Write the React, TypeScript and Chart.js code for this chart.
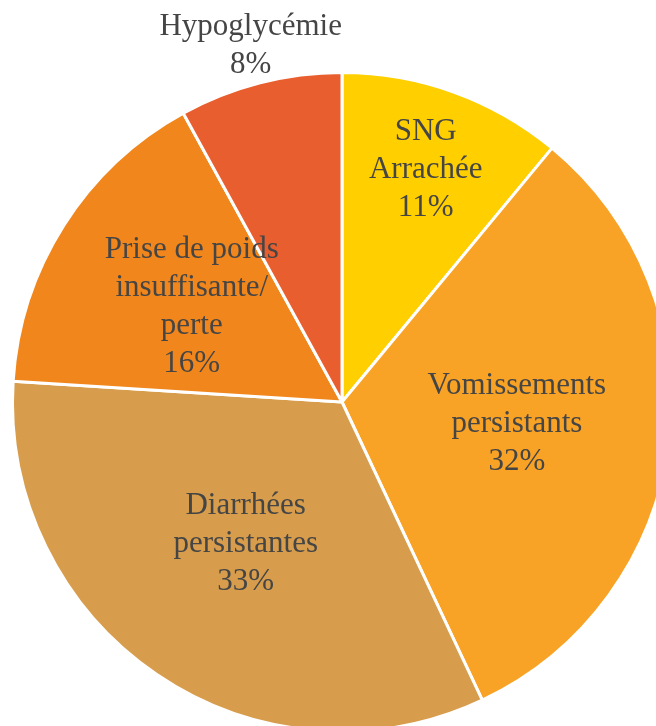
import React, { useEffect, useRef } from "react";
import { Chart, registerables } from "chart.js";

Chart.register(...registerables);

const categories = [
  "SNG Arrachée",
  "Vomissements persistants",
  "Diarrhées persistantes",
  "Prise de poids insuffisante/perte",
  "Hypoglycémie",
];
const labelLines = [
  ["SNG", "Arrachée"],
  ["Vomissements", "persistants"],
  ["Diarrhées", "persistantes"],
  ["Prise de poids", "insuffisante/", "perte"],
  ["Hypoglycémie"],
];
const values = [11, 32, 33, 16, 8];
const colors = ["#FFCF00", "#F8A325", "#D79D4C", "#F0861C", "#E95E2E"];

const labelPlugin = {
  id: "sliceLabels",
  afterDatasetsDraw(chart: any) {
    const meta = chart.getDatasetMeta(0);
    const ctx = chart.ctx;
    const radial = [0.75, 0.535, 0.52, 0.54, 1.115];
    const lh = 38;
    ctx.save();
    ctx.font = '31px "Liberation Serif", "Times New Roman", serif';
    ctx.fillStyle = "#454545";
    ctx.textAlign = "center";
    ctx.textBaseline = "middle";
    meta.data.forEach((arc: any, i: number) => {
      const p = arc.getProps(["x", "y", "startAngle", "endAngle", "outerRadius"], true);
      const mid = (p.startAngle + p.endAngle) / 2;
      const r = p.outerRadius * radial[i];
      const cx = p.x + Math.cos(mid) * r;
      const cy = p.y + Math.sin(mid) * r;
      const lines = [...labelLines[i], values[i] + "%"];
      const top = cy - ((lines.length - 1) * lh) / 2;
      lines.forEach((t, j) => ctx.fillText(t, cx, top + j * lh));
    });
    ctx.restore();
  },
};

export default function App() {
  const ref = useRef<HTMLCanvasElement>(null);
  useEffect(() => {
    if (!ref.current) return;
    const chart = new Chart(ref.current, {
      type: "pie",
      data: {
        labels: categories,
        datasets: [
          {
            data: values,
            backgroundColor: colors,
            borderColor: "#ffffff",
            borderWidth: 3,
          },
        ],
      },
      options: {
        responsive: false,
        animation: false,
        layout: { padding: 11 },
        plugins: { legend: { display: false }, tooltip: { enabled: false } },
      },
      plugins: [labelPlugin],
    });
    return () => chart.destroy();
  }, []);
  return (
    <div
      style={{
        position: "fixed",
        left: 0,
        top: 0,
        width: 656,
        height: 726,
        overflow: "hidden",
        background: "#ffffff",
      }}
    >
      <canvas ref={ref} width={684} height={804} style={{ display: "block" }} />
    </div>
  );
}
